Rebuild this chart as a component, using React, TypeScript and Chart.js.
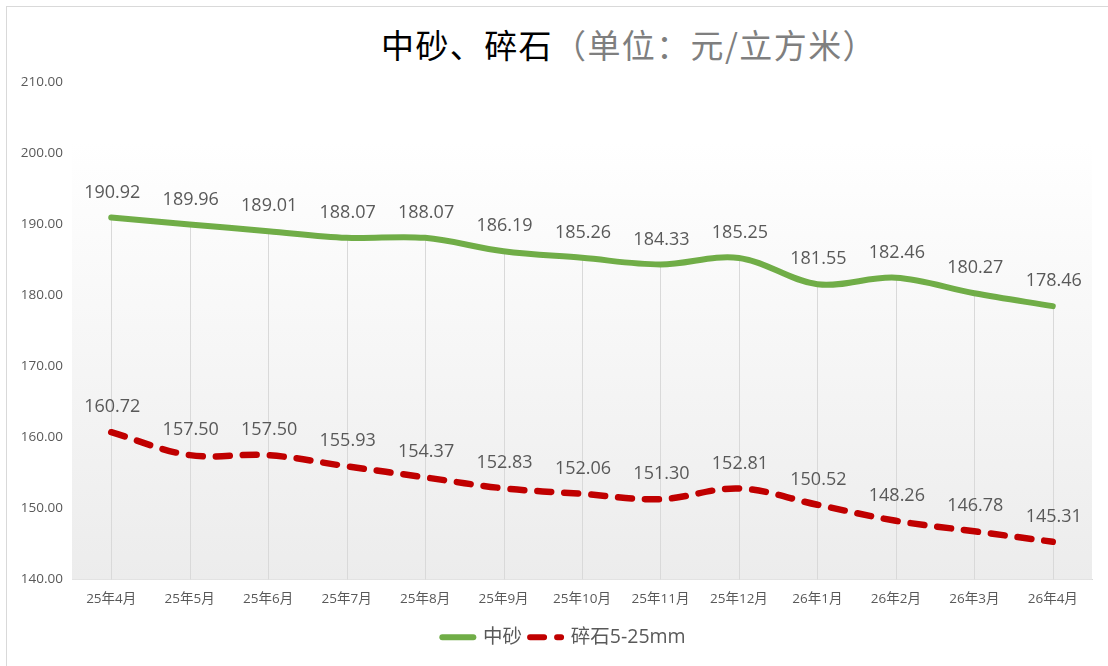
import React, { useEffect, useRef } from "react";
import { Chart, registerables } from "chart.js";

Chart.register(...registerables);

const categories = [
  "25年4月", "25年5月", "25年6月", "25年7月", "25年8月", "25年9月", "25年10月",
  "25年11月", "25年12月", "26年1月", "26年2月", "26年3月", "26年4月",
];
const sandValues = [190.92, 189.96, 189.01, 188.07, 188.07, 186.19, 185.26, 184.33, 185.25, 181.55, 182.46, 180.27, 178.46];
const gravelValues = [160.72, 157.5, 157.5, 155.93, 154.37, 152.83, 152.06, 151.3, 152.81, 150.52, 148.26, 146.78, 145.31];
const seriesNames = ["中砂", "碎石5-25mm"];
const yMin = 140;
const yMax = 210;
const yStep = 10;
const titleMain = "中砂、碎石";
const titleUnit = "（单位：元/立方米）";

const GREEN = "#70ad47";
const RED = "#c00000";
const TEXT = "#595959";
const FONT = '"Open Sans", "Noto Sans CJK SC", sans-serif';

const bgPlugin = {
  id: "bgPlugin",
  afterLayout(chart: any) {
    if (chart.legend) {
      chart.legend.left += 18;
      chart.legend.right += 18;
    }
  },
  beforeDatasetsDraw(chart: any) {
    const { ctx, chartArea, scales } = chart;
    const top = scales.y.getPixelForValue(201.4);
    const g = ctx.createLinearGradient(0, top, 0, chartArea.bottom);
    g.addColorStop(0, "#ffffff");
    g.addColorStop(1, "#ececec");
    ctx.save();
    ctx.fillStyle = g;
    ctx.fillRect(chartArea.left, top, chartArea.right - chartArea.left, chartArea.bottom - top);
    const meta0 = chart.getDatasetMeta(0);
    const meta1 = chart.getDatasetMeta(1);
    ctx.strokeStyle = "#d9d9d9";
    ctx.lineWidth = 1;
    meta0.data.forEach((pt: any, i: number) => {
      const y = Math.min(pt.y, meta1.data[i].y);
      const x = Math.round(pt.x) + 0.5;
      ctx.beginPath();
      ctx.moveTo(x, y);
      ctx.lineTo(x, chartArea.bottom);
      ctx.stroke();
    });
    ctx.restore();
  },
};

const labelPlugin = {
  id: "labelPlugin",
  afterDatasetsDraw(chart: any) {
    const { ctx } = chart;
    ctx.save();
    ctx.fillStyle = TEXT;
    ctx.font = `18px ${FONT}`;
    ctx.textAlign = "center";
    ctx.textBaseline = "middle";
    chart.data.datasets.forEach((ds: any, di: number) => {
      const meta = chart.getDatasetMeta(di);
      meta.data.forEach((pt: any, i: number) => {
        ctx.fillText(Number(ds.data[i]).toFixed(2), pt.x + 1, pt.y - 25);
      });
    });
    ctx.restore();
  },
};

export default function App() {
  const ref = useRef<HTMLCanvasElement>(null);

  useEffect(() => {
    if (!ref.current) return;
    const chart = new Chart(ref.current, {
      type: "line",
      data: {
        labels: categories,
        datasets: [
          {
            label: seriesNames[0],
            data: sandValues,
            borderColor: GREEN,
            backgroundColor: GREEN,
            borderWidth: 6,
            borderCapStyle: "round",
            borderJoinStyle: "round",
            pointRadius: 0,
            tension: 0.35,
          },
          {
            label: seriesNames[1],
            data: gravelValues,
            borderColor: RED,
            backgroundColor: RED,
            borderWidth: 6.5,
            borderDash: [14, 13],
            borderCapStyle: "round",
            borderJoinStyle: "round",
            pointRadius: 0,
            tension: 0.35,
          },
        ],
      },
      options: {
        responsive: false,
        animation: false,
        layout: { padding: { top: 82, left: 0, right: 16, bottom: 9 } },
        plugins: {
          title: { display: false },
          tooltip: { enabled: false },
          legend: {
            position: "bottom",
            labels: {
              usePointStyle: true,
              pointStyleWidth: 31,
              padding: 8,
              color: TEXT,
              font: { size: 19.5, family: FONT },
              generateLabels(chart: any) {
                return chart.data.datasets.map((ds: any, i: number) => ({
                  text: ds.label,
                  fillStyle: ds.borderColor,
                  strokeStyle: ds.borderColor,
                  lineWidth: 6,
                  lineDash: ds.borderDash || [],
                  lineCap: "round",
                  pointStyle: "line",
                  fontColor: TEXT,
                  datasetIndex: i,
                  hidden: false,
                }));
              },
            },
          },
        },
        scales: {
          x: {
            offset: true,
            grid: { display: false, drawTicks: false },
            border: { display: true, color: "#d9d9d9", width: 1 },
            ticks: {
              color: TEXT,
              font: { size: 13.5, family: FONT },
              padding: 12,
              maxRotation: 0,
              autoSkip: false,
            },
            afterFit(scale: any) {
              scale.height = 40;
            },
          },
          y: {
            min: yMin,
            max: yMax,
            grid: { display: false, drawTicks: false },
            border: { display: false },
            ticks: {
              stepSize: yStep,
              color: TEXT,
              font: { size: 13.5, family: FONT },
              padding: 9,
              callback: (v: any) => Number(v).toFixed(2),
            },
            afterFit(scale: any) {
              scale.width = 72;
            },
          },
        },
      },
      plugins: [bgPlugin, labelPlugin],
    });
    return () => chart.destroy();
  }, []);

  return (
    <div style={{ position: "fixed", left: 0, top: 0, width: 1108, height: 666, background: "#fff" }}>
      <div
        style={{
          position: "absolute",
          left: 6,
          top: 6,
          width: 1110,
          height: 670,
          borderLeft: "1px solid #d9d9d9",
          borderTop: "1px solid #d9d9d9",
        }}
      />
      <div
        style={{
          position: "absolute",
          left: 381,
          top: 22,
          whiteSpace: "nowrap",
          fontFamily: '"Noto Sans CJK SC", sans-serif',
          fontSize: 33,
          letterSpacing: 1.4,
          lineHeight: "44px",
        }}
      >
        <span style={{ color: "#000" }}>{titleMain}</span>
        <span style={{ color: "#7f7f7f" }}>{titleUnit}</span>
      </div>
      <canvas ref={ref} width={1108} height={666} style={{ position: "absolute", left: 0, top: 0 }} />
    </div>
  );
}
